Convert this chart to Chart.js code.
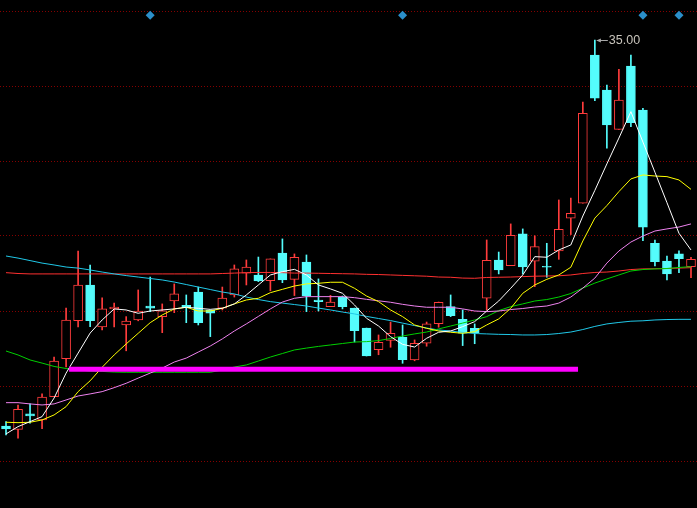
<!DOCTYPE html>
<html>
<head>
<meta charset="utf-8">
<script src="https://cdn.jsdelivr.net/npm/chart.js@4.4.0/dist/chart.umd.min.js"></script>
<style>
html, body { margin: 0; padding: 0; background: #000; }
#kline { display: block; }
</style>
</head>
<body>
<canvas id="kline" width="697" height="508"></canvas>
<script>
// daily candles
var opens = [16.48, 16.32, 17.06, 16.77, 17.89, 19.71, 21.53, 23.25, 21.23, 22.10,
    21.33, 21.57, 22.24, 21.73, 22.48, 22.27, 22.91, 22.05, 22.14, 22.77,
    23.82, 23.73, 23.45, 24.78, 23.52, 24.35, 22.53, 22.21, 22.66, 22.14,
    21.18, 20.14, 20.59, 20.75, 19.65, 20.45, 21.39, 22.21, 21.60, 21.17,
    22.61, 24.45, 24.18, 25.70, 24.39, 24.12, 24.88, 26.45, 27.17, 34.29,
    32.61, 30.72, 33.76, 31.65, 25.25, 24.40, 24.74, 24.13];
var highs = [16.69, 17.49, 17.54, 18.02, 19.79, 22.14, 24.88, 24.21, 22.63, 22.38,
    21.73, 23.01, 23.63, 22.34, 23.30, 22.77, 23.15, 22.05, 23.15, 24.21,
    24.45, 24.59, 24.50, 25.46, 24.74, 24.69, 23.54, 22.75, 22.72, 22.14,
    21.18, 20.85, 21.47, 21.33, 20.61, 21.47, 22.43, 22.77, 22.05, 21.38,
    25.41, 24.83, 26.18, 25.94, 25.61, 25.25, 27.33, 27.42, 32.03, 35.00,
    32.85, 33.60, 34.29, 31.73, 25.41, 24.64, 24.89, 24.58];
var lows = [16.05, 15.90, 16.62, 16.35, 17.89, 19.31, 21.23, 21.25, 21.09, 21.23,
    20.09, 21.53, 21.97, 20.96, 21.92, 21.44, 21.33, 20.77, 22.05, 22.67,
    23.25, 23.41, 22.97, 23.36, 22.74, 21.97, 22.00, 22.21, 22.10, 20.51,
    19.84, 19.90, 20.26, 19.49, 19.61, 20.31, 21.22, 21.73, 20.34, 20.43,
    22.05, 23.78, 24.18, 23.78, 23.17, 23.62, 24.48, 25.67, 27.17, 32.09,
    29.81, 30.72, 30.85, 25.37, 24.16, 23.49, 23.84, 23.60];
var closes = [16.34, 17.28, 16.96, 17.87, 19.60, 21.57, 23.25, 21.53, 22.10, 22.19,
    21.52, 22.00, 22.14, 22.01, 22.82, 22.16, 21.44, 21.89, 22.62, 24.02,
    24.11, 23.44, 24.50, 23.49, 24.58, 22.72, 22.45, 22.43, 22.21, 21.05,
    19.84, 20.50, 20.93, 19.66, 20.45, 21.38, 22.42, 21.77, 20.93, 20.96,
    24.43, 23.97, 25.63, 24.11, 25.09, 24.10, 25.92, 26.69, 31.49, 32.22,
    30.93, 32.13, 31.04, 26.02, 24.37, 23.78, 24.51, 24.48];

// moving average lines
var ma5 = [16.10, 16.45, 16.69, 16.93, 17.82, 19.02, 19.98, 20.94, 21.57, 22.10,
    22.05, 21.89, 22.00, 22.05, 22.10, 22.18, 22.13, 22.08, 22.13, 22.34,
    22.77, 23.25, 23.73, 23.89, 24.00, 23.73, 23.25, 23.06, 22.85, 22.29,
    21.65, 21.28, 20.77, 20.40, 20.27, 20.69, 20.98, 21.04, 21.25, 21.49,
    22.00, 22.48, 23.09, 23.73, 24.61, 24.58, 24.93, 25.17, 26.56, 27.79,
    29.06, 30.30, 31.57, 30.11, 28.66, 27.20, 25.73, 24.93];
var ma10 = [16.66, 16.64, 16.66, 16.77, 17.01, 17.41, 18.13, 18.65, 19.30, 19.89,
    20.42, 20.93, 21.44, 21.81, 22.10, 22.18, 22.00, 22.00, 22.13, 22.34,
    22.53, 22.61, 22.88, 23.04, 23.20, 23.30, 23.33, 23.38, 23.38, 23.09,
    22.72, 22.45, 22.05, 21.73, 21.33, 21.17, 21.04, 20.98, 20.93, 21.01,
    21.33, 21.62, 22.13, 22.85, 23.25, 23.52, 23.73, 24.10, 25.36, 26.46,
    27.06, 27.73, 28.34, 28.53, 28.48, 28.45, 28.29, 27.84];
var ma20 = [17.60, 17.60, 17.54, 17.49, 17.54, 17.73, 17.92, 18.02, 18.13, 18.32,
    18.53, 18.78, 19.02, 19.26, 19.55, 19.74, 20.03, 20.32, 20.66, 21.04,
    21.38, 21.74, 22.10, 22.43, 22.61, 22.69, 22.69, 22.69, 22.69, 22.64,
    22.56, 22.49, 22.42, 22.32, 22.24, 22.18, 22.18, 22.18, 22.10, 22.00,
    21.97, 22.00, 22.07, 22.12, 22.19, 22.24, 22.38, 22.67, 23.10, 23.58,
    24.30, 24.88, 25.31, 25.60, 25.84, 25.94, 26.03, 26.18];
var ma60 = [20.08, 19.89, 19.65, 19.50, 19.34, 19.24, 19.17, 19.12, 19.10, 19.07,
    19.06, 19.06, 19.06, 19.06, 19.06, 19.06, 19.06, 19.06, 19.17, 19.31,
    19.41, 19.60, 19.79, 19.96, 20.13, 20.22, 20.30, 20.37, 20.44, 20.51,
    20.53, 20.58, 20.68, 20.80, 20.90, 20.99, 21.14, 21.28, 21.42, 21.57,
    21.73, 22.02, 22.21, 22.34, 22.48, 22.55, 22.67, 22.84, 23.10, 23.34,
    23.54, 23.73, 23.92, 23.99, 24.02, 24.04, 24.09, 24.13];
var ma120 = [24.64, 24.54, 24.42, 24.30, 24.21, 24.11, 24.06, 23.97, 23.87, 23.78,
    23.70, 23.63, 23.56, 23.49, 23.39, 23.27, 23.15, 23.03, 22.91, 22.82,
    22.67, 22.55, 22.45, 22.38, 22.31, 22.24, 22.14, 22.05, 21.95, 21.86,
    21.74, 21.64, 21.54, 21.42, 21.30, 21.18, 21.09, 21.04, 20.97, 20.92,
    20.90, 20.88, 20.87, 20.85, 20.85, 20.87, 20.92, 20.99, 21.11, 21.26,
    21.38, 21.45, 21.51, 21.53, 21.57, 21.59, 21.60, 21.60];
var ma250 = [23.84, 23.80, 23.78, 23.78, 23.78, 23.78, 23.78, 23.78, 23.78, 23.78,
    23.78, 23.78, 23.78, 23.78, 23.78, 23.78, 23.78, 23.78, 23.80, 23.82,
    23.84, 23.85, 23.85, 23.84, 23.82, 23.82, 23.81, 23.80, 23.79, 23.78,
    23.76, 23.75, 23.73, 23.71, 23.69, 23.67, 23.63, 23.62, 23.58, 23.57,
    23.61, 23.62, 23.63, 23.65, 23.67, 23.68, 23.69, 23.73, 23.80, 23.85,
    23.87, 23.92, 23.99, 24.02, 24.03, 24.04, 24.06, 24.08];

// drawn support line (from bar 5.25 to bar 47.6) and event markers
var supportLevel = 19.2;
var supportFrom = 5.25, supportTo = 47.6;
var markerBars = [12, 33, 53, 56];
var markerLevel = 36.2;

var labels = closes.map(function (c, i) { return 'D' + (i + 1); });

var upColor = '#ff3c3c';
var downColor = '#54fcfc';
var isUp = closes.map(function (c, i) { return c >= opens[i]; });
var candleColor = isUp.map(function (u) { return u ? upColor : downColor; });

function maLine(data, color, order) {
    return {
        type: 'line',
        data: data,
        borderColor: color,
        borderWidth: 1,
        pointRadius: 0,
        tension: 0,
        order: order
    };
}

// label at the highest high, with a small arrow
var peakLabel = {
    id: 'peakLabel',
    afterDatasetsDraw: function (chart) {
        var hi = Math.max.apply(null, highs);
        var idx = highs.indexOf(hi);
        var x = chart.scales.x.getPixelForValue(idx);
        var y = Math.round(chart.scales.y.getPixelForValue(hi)) + 0.5;
        var ctx = chart.ctx;
        ctx.save();
        ctx.strokeStyle = '#a8a8a8';
        ctx.fillStyle = '#a8a8a8';
        ctx.lineWidth = 1;
        ctx.beginPath();
        ctx.moveTo(x + 2, y);
        ctx.lineTo(x + 13, y);
        ctx.stroke();
        ctx.beginPath();
        ctx.moveTo(x + 1.5, y);
        ctx.lineTo(x + 6, y - 2);
        ctx.lineTo(x + 6, y + 2);
        ctx.closePath();
        ctx.fill();
        ctx.fillStyle = '#c8c4bc';
        ctx.font = '12.5px "Liberation Sans", Arial, sans-serif';
        ctx.textBaseline = 'middle';
        ctx.fillText(hi.toFixed(2), x + 14, y);
        ctx.restore();
    }
};

var ctx = document.getElementById('kline').getContext('2d');
var chart = new Chart(ctx, {
    type: 'bar',
    data: {
        labels: labels,
        datasets: [
            {
                type: 'line',
                xAxisID: 'x2',
                data: [{ x: supportFrom, y: supportLevel }, { x: supportTo, y: supportLevel }],
                borderColor: '#ff00ff',
                borderWidth: 5,
                borderCapStyle: 'butt',
                pointRadius: 0,
                order: 0
            },
            {
                type: 'line',
                xAxisID: 'x2',
                data: markerBars.map(function (b) { return { x: b, y: markerLevel }; }),
                showLine: false,
                pointStyle: 'rectRot',
                pointRadius: 4.5,
                backgroundColor: '#2b8fca',
                borderColor: '#2b8fca',
                borderWidth: 0,
                clip: false,
                order: 0
            },
            maLine(ma5, '#ffffff', 1),
            maLine(ma10, '#ffff00', 2),
            maLine(ma20, '#ee82ee', 3),
            maLine(ma60, '#00d000', 3),
            maLine(ma120, '#20c8e8', 4),
            maLine(ma250, '#ff3030', 4),
            {
                // bodies: hollow red when up, solid cyan when down
                data: opens.map(function (o, i) { return [o, closes[i]]; }),
                backgroundColor: isUp.map(function (u) { return u ? '#000000' : downColor; }),
                borderColor: candleColor,
                borderWidth: 1,
                borderSkipped: false,
                barThickness: 9,
                minBarLength: 1,
                grouped: false,
                order: 5
            },
            {
                // wicks
                data: lows.map(function (l, i) { return [l, highs[i]]; }),
                backgroundColor: candleColor,
                borderWidth: 0,
                barThickness: 1,
                grouped: false,
                order: 6
            }
        ]
    },
    options: {
        responsive: false,
        animation: false,
        devicePixelRatio: 1,
        events: [],
        layout: { autoPadding: false, padding: { top: 11, bottom: 47, left: 0, right: 0 } },
        plugins: {
            legend: { display: false },
            tooltip: { enabled: false }
        },
        scales: {
            x: { type: 'category', offset: true, display: false },
            x2: { type: 'linear', min: -0.5, max: 57.5, offset: false, display: false, grid: { offset: false } },
            y: {
                min: 14.8,
                max: 36.4,
                ticks: { display: false, count: 7 },
                grid: { color: '#850000', drawTicks: false },
                border: { display: false, dash: [1, 2] },
                afterFit: function (scale) { scale.width = 0; }
            }
        }
    },
    plugins: [peakLabel]
});
</script>
</body>
</html>
